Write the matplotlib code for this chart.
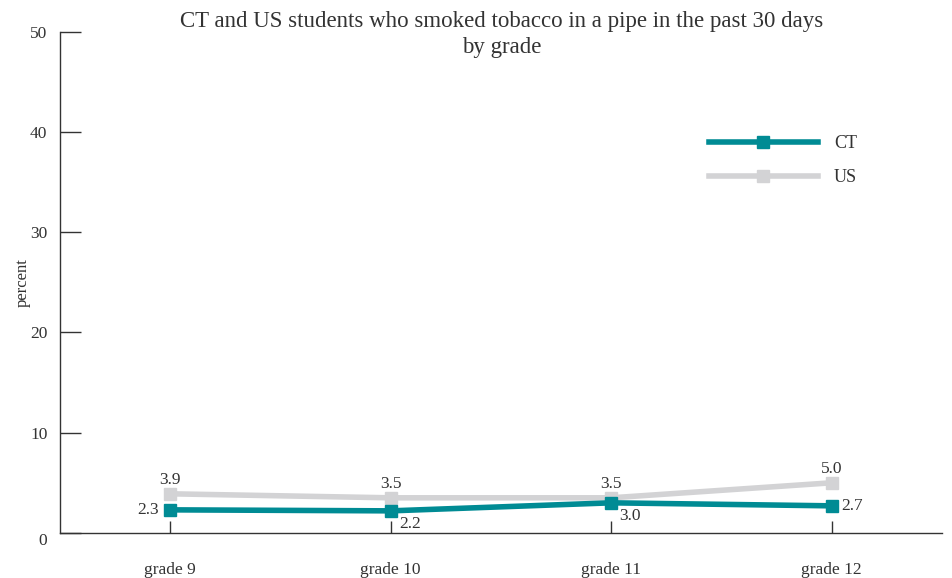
import numpy as np
import matplotlib
matplotlib.use("Agg")
import matplotlib.pyplot as plt

plt.rcParams['font.family'] = ['Liberation Serif', 'DejaVu Serif']

# data
grades = ['grade 9', 'grade 10', 'grade 11', 'grade 12']
ct_vals = [2.3, 2.2, 3.0, 2.7]
us_vals = [3.9, 3.5, 3.5, 5.0]

ct_color = '#008B94'
us_color = '#D3D3D5'
text_color = '#333333'

fig = plt.figure(figsize=(9.52, 5.78), dpi=100)
ax = fig.add_axes([0.063, 0.078, 0.9265, 0.8675])

x = np.arange(len(grades))
ax.plot(x, us_vals, color=us_color, lw=4, marker='s', ms=9, label='US', zorder=2)
ax.plot(x, ct_vals, color=ct_color, lw=4, marker='s', ms=9, label='CT', zorder=3)

# value labels
for xi, v in zip(x, us_vals):
    ax.annotate(f'{v:.1f}', (xi, v), xytext=(0, 4), textcoords='offset points',
                ha='center', va='bottom', fontsize=12.5, color=text_color)
ct_offsets = [(-8, 0, 'right', 'center'), (6, -4, 'left', 'top'),
              (6, -4, 'left', 'top'), (7, 0, 'left', 'center')]
for xi, v, (dx, dy, ha, va) in zip(x, ct_vals, ct_offsets):
    ax.annotate(f'{v:.1f}', (xi, v), xytext=(dx, dy), textcoords='offset points',
                ha=ha, va=va, fontsize=12.5, color=text_color)

ax.set_xlim(-0.5, 3.5)
ax.set_ylim(0, 50)
ax.set_xticks(x)
ax.set_xticklabels(grades)
ax.set_yticks([0, 10, 20, 30, 40, 50])
ax.tick_params(axis='y', direction='in', length=15, width=1, pad=9,
               labelsize=12.5, colors=text_color)
ax.tick_params(axis='x', direction='in', length=9, width=1, pad=21,
               labelsize=12.5, colors=text_color)
zero_lbl = ax.get_yticklabels()[0]
zero_lbl.set_verticalalignment('top')
zero_lbl.set_y(-0.006)

for s in ['top', 'right']:
    ax.spines[s].set_visible(False)
for s in ['left', 'bottom']:
    ax.spines[s].set_color(text_color)
    ax.spines[s].set_linewidth(1)

ax.set_ylabel('percent', fontsize=12, color=text_color)
ax.yaxis.set_label_coords(-0.033, 0.5)

fig.text(0.527, 1 - 22 / 578, 'CT and US students who smoked tobacco in a pipe in the past 30 days',
         ha='center', va='center', fontsize=16.5, color=text_color)
fig.text(0.527, 1 - 47 / 578, 'by grade',
         ha='center', va='center', fontsize=16.5, color=text_color)

handles, labels = ax.get_legend_handles_labels()
ax.legend(handles[::-1], labels[::-1], loc='upper right', bbox_to_anchor=(0.922, 0.8255),
          frameon=False, handlelength=6.0, fontsize=13, labelspacing=0.95,
          handletextpad=0.9, labelcolor=text_color)

fig.savefig('out.png', dpi=100)
